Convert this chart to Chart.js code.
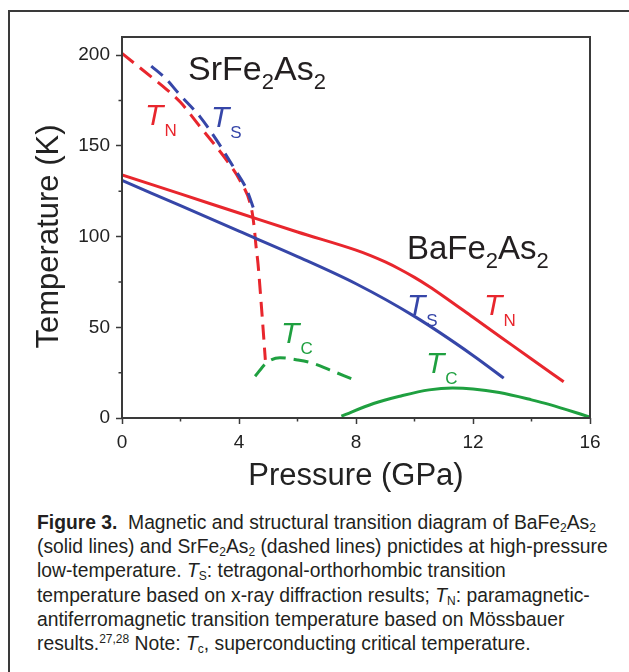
<!DOCTYPE html>
<html><head><meta charset="utf-8">
<script src="https://cdn.jsdelivr.net/npm/chart.js@4/dist/chart.umd.min.js"></script>
<style>
html,body{margin:0;padding:0;background:#fff;width:629px;height:672px;overflow:hidden;}
#frame{position:absolute;left:8px;top:10px;width:700px;height:700px;border-left:2px solid #3a3a3a;border-top:2px solid #3a3a3a;}
#wrap{position:absolute;left:0;top:0;width:629px;height:500px;}
#caption{position:absolute;left:37px;top:511px;font-family:"Liberation Sans",Arial,sans-serif;font-size:19.3px;line-height:24.2px;color:#231f20;white-space:nowrap;}
#caption sub{font-size:12px;vertical-align:-3px;line-height:0;}
#caption sup{font-size:12px;vertical-align:7px;line-height:0;}
</style></head>
<body>
<div id="frame"></div>
<div id="wrap"><canvas id="c" width="629" height="500"></canvas></div>
<div id="caption"><b>Figure 3.</b>&nbsp; Magnetic and structural transition diagram of BaFe<sub>2</sub>As<sub>2</sub><br>(solid lines) and SrFe<sub>2</sub>As<sub>2</sub> (dashed lines) pnictides at high-pressure<br>low-temperature. <i>T</i><sub>S</sub>: tetragonal-orthorhombic transition<br>temperature based on x-ray diffraction results; <i>T</i><sub>N</sub>: paramagnetic-<br>antiferromagnetic transition temperature based on Mössbauer<br>results.<sup>27,28</sup> Note: <i>T</i><sub>c</sub>, superconducting critical temperature.</div>
<script>
// ---- data (pressure in GPa, temperature in K) ----
const pressureBaTN = [0, 2, 4, 6, 8, 8.5, 9, 9.5, 10, 10.5, 11, 12, 13, 14, 15.1];
const tempBaTN     = [134, 123.5, 113, 102.5, 92.5, 89.5, 86, 82, 77.5, 72.5, 67, 55.5, 44, 32.5, 20];
const pressureBaTS = [0, 2, 4, 6, 8, 10, 12, 13.05];
const tempBaTS     = [131, 117, 103, 89, 74, 56, 34.5, 22];
const pressureBaTC = [7.5, 8.6, 9.5, 10.5, 11.3, 12, 12.9, 14, 14.6, 16];
const tempBaTC     = [1, 8, 12, 15.5, 16.5, 16, 14, 10, 7.5, 0.5];
const pressureSrTN = [0, 0.5, 1.0, 1.53, 2.0, 2.67, 3.2, 3.58, 4.03, 4.43, 4.52, 4.58, 4.65, 4.75, 4.82, 4.9];
const tempSrTN     = [201, 194.5, 188, 181, 174, 160.5, 150, 142, 131, 115, 105, 95, 85, 65, 50, 32];
const pressureSrTS = [1.0, 1.5, 1.93, 2.67, 3.24, 3.86, 4.26, 4.51];
const tempSrTS     = [194, 187, 179, 166, 153, 137, 126, 115];
const pressureSrTC = [4.55, 4.95, 5.4, 6.0, 6.5, 7.1, 7.85];
const tempSrTC     = [23, 30.5, 33.2, 32, 30.3, 26.5, 21.6];

const xTickValues = [0, 4, 8, 12, 16];
const yTickValues = [0, 50, 100, 150, 200];
const xMinorTicks = [2, 6, 10, 14];
const yMinorTicks = [25, 75, 125, 175];

const xTitle = 'Pressure (GPa)';
const yTitle = 'Temperature (K)';

// text labels: runs of text anchored at data coordinates
const RED = '#e8262d', BLUE = '#3646a8', GREEN = '#1fa040', INK = '#231f20';
const labelRuns = [
  {x: 2.26, y: 186.3, color: INK, runs: [['SrFe',34,0,''],['2',22,9,''],['As',34,0,''],['2',22,9,'']]},
  {x: 9.74, y: 87.7, color: INK, runs: [['BaFe',33,0,''],['2',22,9,''],['As',33,0,''],['2',22,9,'']]},
  {x: 0.79, y: 161.5, color: RED, runs: [['T',30,0,'italic'],['N',17,11,'']]},
  {x: 3.04, y: 160.4, color: BLUE, runs: [['T',30,0,'italic'],['S',17,11,'']]},
  {x: 9.74, y: 56.9, color: BLUE, runs: [['T',30,0,'italic'],['S',17,11,'']]},
  {x: 12.38, y: 56.9, color: RED, runs: [['T',30,0,'italic'],['N',17,11,'']]},
  {x: 5.44, y: 41.5, color: GREEN, runs: [['T',30,0,'italic'],['C',17,11,'']]},
  {x: 10.39, y: 25, color: GREEN, runs: [['T',30,0,'italic'],['C',17,11,'']]}
];

const pts = (xs, ys) => xs.map((x, i) => ({x, y: ys[i]}));
const ds = (xs, ys, color, dashed) => ({
  data: pts(xs, ys), showLine: true, borderColor: color, borderWidth: 3,
  pointRadius: 0, fill: false, cubicInterpolationMode: 'monotone',
  borderDash: dashed ? [15, 8] : [], borderCapStyle: 'butt'
});

const FONT = '"Liberation Sans", Arial, sans-serif';
const AX = '#3a3a3a';

const extras = {
  id: 'extras',
  afterDraw(chart) {
    const {ctx, chartArea: a, scales: {x, y}} = chart;
    ctx.save();
    // frame
    ctx.strokeStyle = AX; ctx.lineWidth = 2;
    ctx.strokeRect(a.left, a.top, a.right - a.left, a.bottom - a.top);
    // minor ticks
    ctx.lineWidth = 1.5;
    ctx.beginPath();
    xMinorTicks.forEach(v => { const p = x.getPixelForValue(v); ctx.moveTo(p, a.bottom); ctx.lineTo(p, a.bottom + 3.5); });
    yMinorTicks.forEach(v => { const p = y.getPixelForValue(v); ctx.moveTo(a.left, p); ctx.lineTo(a.left - 3.5, p); });
    ctx.stroke();
    // y axis title (drawn rotated, slightly below the plot centre as in the original)
    ctx.save();
    ctx.fillStyle = '#222';
    ctx.font = '31px ' + FONT;
    ctx.textAlign = 'center'; ctx.textBaseline = 'middle';
    ctx.translate(49, (a.top + a.bottom) / 2 + 9);
    ctx.rotate(-Math.PI / 2);
    ctx.fillText(yTitle, 0, 0);
    ctx.restore();
    // labels
    ctx.textBaseline = 'alphabetic'; ctx.textAlign = 'left';
    labelRuns.forEach(l => {
      let px = x.getPixelForValue(l.x); const py = y.getPixelForValue(l.y);
      ctx.fillStyle = l.color;
      l.runs.forEach(([t, size, dy, style]) => {
        ctx.font = (style ? style + ' ' : '') + size + 'px ' + FONT;
        ctx.fillText(t, px, py + dy);
        px += ctx.measureText(t).width + (style === 'italic' ? 1 : 0);
      });
    });
    ctx.restore();
  }
};

new Chart(document.getElementById('c'), {
  type: 'scatter',
  data: {datasets: [
    ds(pressureBaTC, tempBaTC, GREEN, false),
    ds(pressureBaTS, tempBaTS, BLUE, false),
    ds(pressureBaTN, tempBaTN, RED, false),
    ds(pressureSrTC, tempSrTC, GREEN, true),
    ds(pressureSrTS, tempSrTS, BLUE, true),
    ds(pressureSrTN, tempSrTN, RED, true)
  ]},
  options: {
    responsive: false, animation: false, devicePixelRatio: 1,
    layout: {padding: {top: 37, right: 39, left: 0, bottom: 0}},
    plugins: {legend: {display: false}, tooltip: {enabled: false}},
    scales: {
      x: {
        type: 'linear', min: 0, max: 16,
        afterBuildTicks: s => { s.ticks = xTickValues.map(v => ({value: v})); },
        afterFit: s => { s.height = 82; },
        border: {display: false},
        grid: {drawOnChartArea: false, drawTicks: true, tickLength: 6, tickColor: AX, tickWidth: 1.5},
        ticks: {padding: 7, color: '#222', font: {family: FONT, size: 19}, maxRotation: 0},
        title: {display: true, text: xTitle, color: '#222', font: {family: FONT, size: 31}, padding: {top: 0, bottom: 5}}
      },
      y: {
        type: 'linear', min: 0, max: 210,
        afterBuildTicks: s => { s.ticks = yTickValues.map(v => ({value: v})); },
        afterFit: s => { s.width = 122; },
        border: {display: false},
        grid: {drawOnChartArea: false, drawTicks: true, tickLength: 6, tickColor: AX, tickWidth: 1.5},
        ticks: {padding: 6, color: '#222', font: {family: FONT, size: 19}},
        title: {display: false, text: yTitle}
      }
    }
  },
  plugins: [extras]
});
</script>
</body></html>
